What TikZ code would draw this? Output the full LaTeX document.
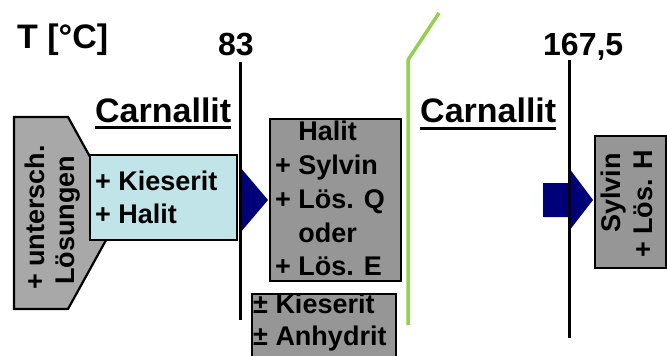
\documentclass[tikz,border=0pt]{standalone}
\usepackage{fontspec}
\setmainfont{Liberation Sans}
\definecolor{boxblue}{RGB}{192,228,232}
\definecolor{boxgray}{RGB}{150,150,150}
\definecolor{boxgraylight}{RGB}{168,168,168}
\definecolor{arrownavy}{RGB}{0,0,120}
\definecolor{phasegreen}{RGB}{146,208,80}

\tikzset{
  lbl/.style={font=\fontsize{27}{32}\selectfont\bfseries, inner sep=0pt, anchor=base west},
  vlbl/.style={lbl, rotate=90},
  templbl/.style={font=\fontsize{32}{38}\selectfont\bfseries, inner sep=0pt, anchor=base west},
  phaselbl/.style={font=\fontsize{34}{40}\selectfont\bfseries, inner sep=0pt, anchor=base west},
  box/.style={draw=black, line width=2.2pt, inner sep=0pt, anchor=north west},
  templine/.style={line width=3pt},
  underl/.style={line width=3pt},
  blockarrow/.style={fill=arrownavy, draw=none},
  greenline/.style={draw=phasegreen, line width=3.5pt, line join=round}
}

\begin{document}
\begin{tikzpicture}[x=1pt,y=-1pt]
\useasboundingbox[fill=white] (0,0) rectangle (667,356);

% axis labels
\node[templbl, font=\fontsize{34}{40}\selectfont\bfseries] (tc) at (17,48) {T [°C]};
\node[templbl] (t83)  at (218,55) {83};
\node[templbl] (t167) at (543,55) {167,5};

% phase labels with underline
\node[phaselbl] (carnL) at (95,122)  {Carnallit};
\node[phaselbl] (carnR) at (420,122) {Carnallit};
\draw[underl] ([yshift=-5pt]carnL.base west) -- ([yshift=-5pt]carnL.base east);
\draw[underl] ([yshift=-6pt]carnR.base west) -- ([yshift=-6pt]carnR.base east);

% block arrows
\coordinate (aL) at (240,200);
\fill[blockarrow] (240,167) -- (268,200) -- (240,233) -- cycle;
\coordinate (aR) at (569,200);
\fill[blockarrow] (543,183) -- (569,183) -- (569,168) -- (593,200)
  -- (569,231) -- (569,217) -- (543,217) -- cycle;

% temperature lines
\coordinate (l83top) at (240,62);
\coordinate (l83bot) at (240,320);
\coordinate (l167top) at (569,60);
\coordinate (l167bot) at (569,338);
\draw[templine] (l83top) -- (l83bot);
\draw[templine] (l167top) -- (l167bot);

% green boundary
\coordinate (g1) at (439,13);
\coordinate (g2) at (408,60);
\coordinate (g3) at (408,325);
\draw[greenline] (g1) -- (g2) -- (g3);

% left tag-shaped box
\filldraw[fill=boxgraylight, draw=black, line width=2.2pt, line join=miter]
  (14,117) -- (68,117) -- (121,213) -- (68,309) -- (14,309) -- cycle;
\node[vlbl] (unt) at (45,290) {+ untersch.};
\node[vlbl] (loes) at (74,285) {Lösungen};

% Carnallit field box
\node[box, fill=boxblue, minimum width=147pt, minimum height=85pt] (blue) at (89,154) {};
\node[lbl] (kies1) at (95,190) {+ Kieserit};
\node[lbl] (hal1)  at (95,223) {+ Halit};

% product box at 83 °C
\node[box, fill=boxgray, minimum width=131pt, minimum height=162pt] (mid) at (269,118) {};
\node[lbl] (m1) at (275,140) {\phantom{+ }Halit};
\node[lbl] (m2) at (275,174) {+ Sylvin};
\node[lbl] (m3) at (275,208) {+ Lös. Q};
\node[lbl] (m4) at (275,242) {\phantom{+ }oder};
\node[lbl] (m5) at (275,275) {+ Lös. E};

% accessory minerals
\node[box, fill=boxgray, minimum width=144pt, minimum height=70pt] (low) at (251,293) {};
\node[lbl] (k2) at (253,313) {± Kieserit};
\node[lbl] (an) at (253,345) {± Anhydrit};

% product box at 167,5 °C
\node[box, fill=boxgray, minimum width=71pt, minimum height=132pt] (right) at (594,135) {};
\node[vlbl] (syl) at (620,233) {Sylvin};
\node[vlbl] (lh)  at (652,258) {+ Lös. H};
\end{tikzpicture}
\end{document}
